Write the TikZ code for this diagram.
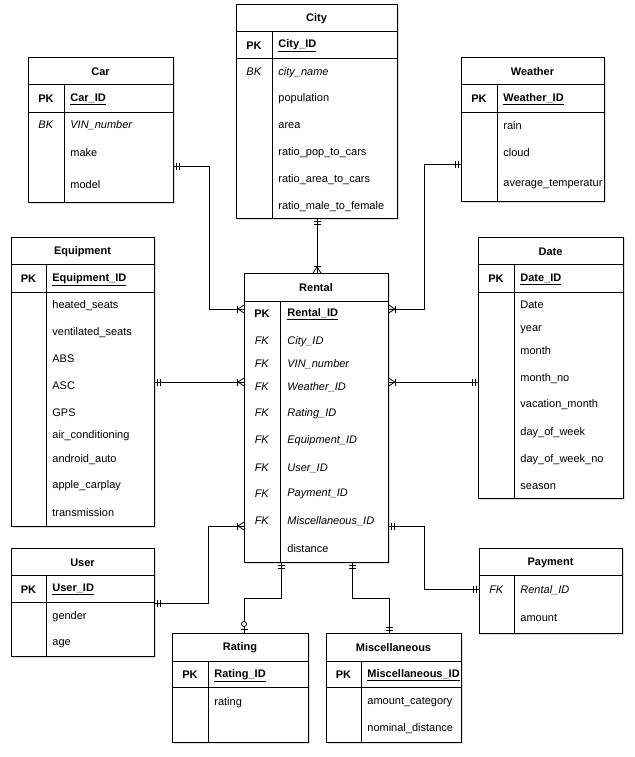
\documentclass[tikz,border=0pt]{standalone}
\usepackage{fontspec}
\setmainfont{Liberation Sans}
\usetikzlibrary{decorations.markings,shadows}
\newcommand{\erfont}{\fontsize{11}{13}\selectfont}

\begin{document}
\begin{tikzpicture}[
  x=1pt, y=-1pt,
  line width=0.8pt,
  tbl/.style={draw, fill=white, anchor=north west, inner sep=0pt,
    drop shadow={shadow xshift=1.5pt, shadow yshift=-1.5pt, opacity=0.25}},
  ttl/.style={font=\erfont\bfseries, inner sep=0pt, yshift=-1pt},
  key/.style={font=\erfont, inner sep=0pt, yshift=-1.2pt},
  fld/.style={font=\erfont, inner sep=0pt, anchor=west, yshift=-1.2pt},
  rel/.style={draw},
  one start/.style={postaction={decorate, decoration={markings,
      mark=at position 3pt with {\draw (0,-3.5pt) -- (0,3.5pt);},
      mark=at position 6pt with {\draw (0,-3.5pt) -- (0,3.5pt);}}}},
  one end/.style={postaction={decorate, decoration={markings,
      mark=at position -3pt with {\draw (0,-3.5pt) -- (0,3.5pt);},
      mark=at position -6pt with {\draw (0,-3.5pt) -- (0,3.5pt);}}}},
  many start/.style={postaction={decorate, decoration={markings,
      mark=at position 6pt with {\draw (0,0) -- (-6pt,4pt) (0,0) -- (-6pt,-4pt);},
      mark=at position 7pt with {\draw (0,-3.5pt) -- (0,3.5pt);}}}},
  many end/.style={postaction={decorate, decoration={markings,
      mark=at position -6pt with {\draw (0,0) -- (6pt,4pt) (0,0) -- (6pt,-4pt);},
      mark=at position -7pt with {\draw (0,-3.5pt) -- (0,3.5pt);}}}},
  zeroone end/.style={postaction={decorate, decoration={markings,
      mark=at position -4pt with {\draw (0,-3.5pt) -- (0,3.5pt);},
      mark=at position -9pt with {\draw[fill=white] (0,0) circle (2.5pt);}}}}
]
\fill[white] (0,0) rectangle (634,757);
\useasboundingbox (0,0) rectangle (634,757);

% City
\node[tbl, minimum width=161pt, minimum height=214pt] (city) at (236,4) {};
\node[ttl] (city-t) at (316.5,17.5) {City};
\draw (236,31) -- (397,31) (236,58) -- (397,58) (272,31) -- (272,218);
\node[key] (city-k1) at (254,44.5) {\textbf{PK}};
\node[fld] (city-id) at (278,44.5) {\textbf{\underline{City\_ID}}};
\node[key] (city-k2) at (254,71) {\textit{BK}};
\foreach \f/\y [count=\i] in {\textit{city\_name}/71, population/97, area/124,
    ratio\_pop\_to\_cars/151, ratio\_area\_to\_cars/178, ratio\_male\_to\_female/205}
  \node[fld] (city-f\i) at (278,\y) {\f};

% Car
\node[tbl, minimum width=145pt, minimum height=145pt] (car) at (28,57) {};
\node[ttl] (car-t) at (100.5,70.5) {Car};
\draw (28,84) -- (173,84) (28,112) -- (173,112) (64,84) -- (64,202);
\node[key] (car-k1) at (46,98) {\textbf{PK}};
\node[fld] (car-id) at (70,98) {\textbf{\underline{Car\_ID}}};
\node[key] (car-k2) at (46,124) {\textit{BK}};
\foreach \f/\y [count=\i] in {\textit{VIN\_number}/124, make/151, model/183}
  \node[fld] (car-f\i) at (70,\y) {\f};

% Weather
\node[tbl, minimum width=143pt, minimum height=144pt] (weather) at (461,57) {};
\node[ttl] (weather-t) at (532.5,70.5) {Weather};
\draw (461,84) -- (604,84) (461,112) -- (604,112) (497,84) -- (497,201);
\node[key] (weather-k1) at (479,98) {\textbf{PK}};
\node[fld] (weather-id) at (503,98) {\textbf{\underline{Weather\_ID}}};
\foreach \f/\y [count=\i] in {rain/124, cloud/151, average\_temperatur/183}
  \node[fld] (weather-f\i) at (503,\y) {\f};

% Equipment
\node[tbl, minimum width=143pt, minimum height=289pt] (equipment) at (11,237) {};
\node[ttl] (equipment-t) at (82.5,250.5) {Equipment};
\draw (11,264) -- (154,264) (11,292) -- (154,292) (46,264) -- (46,526);
\node[key] (equipment-k1) at (28.5,278) {\textbf{PK}};
\node[fld] (equipment-id) at (52,278) {\textbf{\underline{Equipment\_ID}}};
\foreach \f/\y [count=\i] in {heated\_seats/304, ventilated\_seats/331, ABS/358,
    ASC/385, GPS/412, air\_conditioning/434, android\_auto/458,
    apple\_carplay/484, transmission/511}
  \node[fld] (equipment-f\i) at (52,\y) {\f};

% Rental
\node[tbl, minimum width=144pt, minimum height=289pt] (rental) at (244,273) {};
\node[ttl] (rental-t) at (316,287) {Rental};
\draw (244,301) -- (388,301) (280,301) -- (280,562);
\node[key] (rental-k0) at (262,313) {\textbf{PK}};
\node[fld] (rental-id) at (287,313) {\textbf{\underline{Rental\_ID}}};
\foreach \f/\y [count=\i] in {City\_ID/340, VIN\_number/363, Weather\_ID/386,
    Rating\_ID/412, Equipment\_ID/439, User\_ID/467, Payment\_ID/493,
    Miscellaneous\_ID/520} {
  \node[key] (rental-k\i) at (262,\y) {\textit{FK}};
  \node[fld] (rental-f\i) at (287,\y) {\textit{\f}};
}
\node[fld] (rental-f9) at (287,547) {distance};

% Date
\node[tbl, minimum width=145pt, minimum height=261pt] (date) at (478,237) {};
\node[ttl] (date-t) at (550.5,250.5) {Date};
\draw (478,264) -- (623,264) (478,292) -- (623,292) (514,264) -- (514,498);
\node[key] (date-k1) at (496,278) {\textbf{PK}};
\node[fld] (date-id) at (520,278) {\textbf{\underline{Date\_ID}}};
\foreach \f/\y [count=\i] in {Date/304, year/328, month/349, month\_no/377,
    vacation\_month/403, day\_of\_week/431, day\_of\_week\_no/458, season/485}
  \node[fld] (date-f\i) at (520,\y) {\f};

% User
\node[tbl, minimum width=143pt, minimum height=108pt] (user) at (11,548) {};
\node[ttl] (user-t) at (82.5,561.5) {User};
\draw (11,575) -- (154,575) (11,602) -- (154,602) (46,575) -- (46,656);
\node[key] (user-k1) at (28.5,588.5) {\textbf{PK}};
\node[fld] (user-id) at (52,588.5) {\textbf{\underline{User\_ID}}};
\foreach \f/\y [count=\i] in {gender/615, age/642}
  \node[fld] (user-f\i) at (52,\y) {\f};

% Payment
\node[tbl, minimum width=143pt, minimum height=85pt] (payment) at (479,548) {};
\node[ttl] (payment-t) at (550.5,561.5) {Payment};
\draw (479,575) -- (622,575) (514,575) -- (514,633);
\node[key] (payment-k1) at (496.5,589) {\textit{FK}};
\node[fld] (payment-f1) at (520,589) {\textit{Rental\_ID}};
\node[fld] (payment-f2) at (520,617) {amount};

% Rating
\node[tbl, minimum width=136pt, minimum height=109pt] (rating) at (172,633) {};
\node[ttl] (rating-t) at (240,647) {Rating};
\draw (172,661) -- (308,661) (172,687) -- (308,687) (208,661) -- (208,742);
\node[key] (rating-k1) at (190,674) {\textbf{PK}};
\node[fld] (rating-id) at (214,674) {\textbf{\underline{Rating\_ID}}};
\node[fld] (rating-f1) at (214,701) {rating};

% Miscellaneous
\node[tbl, minimum width=135pt, minimum height=109pt] (misc) at (326,633) {};
\node[ttl] (misc-t) at (393.5,647) {Miscellaneous};
\draw (326,661) -- (461,661) (326,687) -- (461,687) (361,661) -- (361,742);
\node[key] (misc-k1) at (343.5,674) {\textbf{PK}};
\node[fld] (misc-id) at (367,674) {\textbf{\underline{Miscellaneous\_ID}}};
\foreach \f/\y [count=\i] in {amount\_category/701, nominal\_distance/727}
  \node[fld] (misc-f\i) at (367,\y) {\f};

% relations
\draw[rel, one start, many end] (city.south -| 317,0) -- (rental.north -| 317,0);
\draw[rel, one start, many end] (car.east |- 0,166) -- (209,166) |- (rental.west |- 0,309);
\draw[rel, one start, many end] (weather.west |- 0,164) -- (424,164) |- (rental.east |- 0,309);
\draw[rel, one start, many end] (equipment.east |- 0,382) -- (rental.west |- 0,382);
\draw[rel, many start, one end] (rental.east |- 0,382) -- (date.west |- 0,382);
\draw[rel, one start, many end] (user.east |- 0,603) -- (208,603) |- (rental.west |- 0,526);
\draw[rel, one start, one end] (rental.east |- 0,526) -- (424,526) |- (payment.west |- 0,589);
\draw[rel, one start, zeroone end] (rental.south -| 281,0) -- (281,598) -| (rating.north -| 244,0);
\draw[rel, one start, one end] (rental.south -| 352,0) -- (352,598) -| (misc.north -| 389,0);
\end{tikzpicture}
\end{document}
